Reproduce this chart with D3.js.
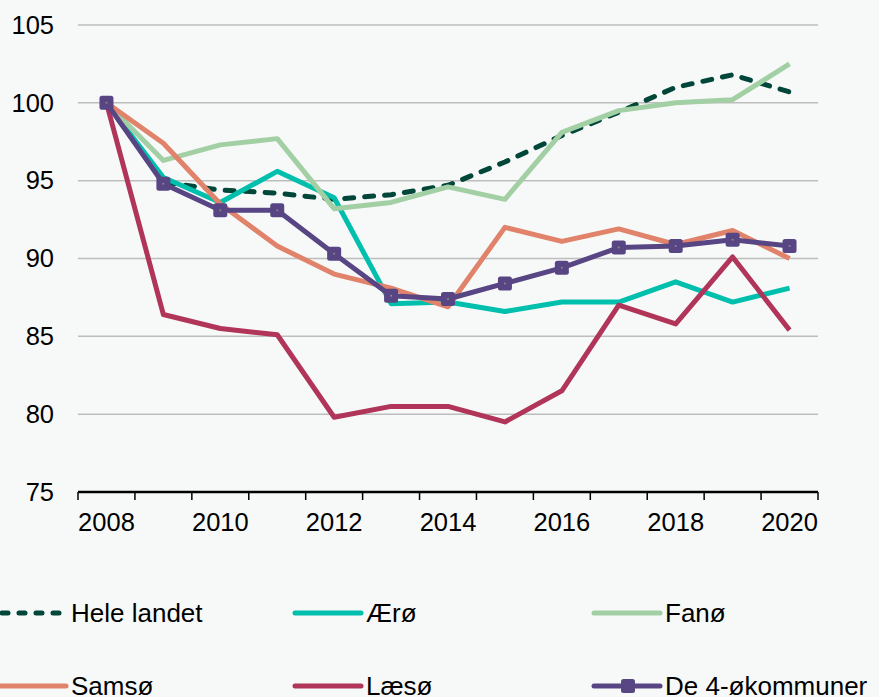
<!DOCTYPE html>
<html>
<head>
<meta charset="utf-8">
<script src="https://cdn.jsdelivr.net/npm/d3@7"></script>
<style>
  body { margin: 0; background: #f7f9f9; }
  svg { display: block; font-family: "Liberation Sans", Arial, sans-serif; }
</style>
</head>
<body>
<div id="okvir"></div>
<script>
// data
const aar = ["2008","2009","2010","2011","2012","2013","2014","2015","2016","2017","2018","2019","2020"]
const aarOznake = ["2008","2010","2012","2014","2016","2018","2020"]
const yTicks = [75, 80, 85, 90, 95, 100, 105]

const heleLandet = [100, 94.9, 94.4, 94.2, 93.8, 94.1, 94.7, 96.2, 97.9, 99.4, 101.0, 101.8, 100.7]
const aeroe = [100, 95.2, 93.6, 95.6, 93.9, 87.1, 87.2, 86.6, 87.2, 87.2, 88.5, 87.2, 88.1]
const fanoe = [100, 96.3, 97.3, 97.7, 93.2, 93.6, 94.6, 93.8, 98.1, 99.5, 100.0, 100.2, 102.5]
const samsoe = [100, 97.4, 93.5, 90.8, 89.0, 88.1, 86.9, 92.0, 91.1, 91.9, 90.9, 91.8, 90.0]
const laesoe = [100, 86.4, 85.5, 85.1, 79.8, 80.5, 80.5, 79.5, 81.5, 87.0, 85.8, 90.1, 85.4]
const oekommuner = [100, 94.8, 93.1, 93.1, 90.3, 87.6, 87.4, 88.4, 89.4, 90.7, 90.8, 91.2, 90.8]

const serije = [
  { naziv: "Hele landet", vrijednosti: heleLandet, boja: "#00473a", crtkano: true },
  { naziv: "Ærø", vrijednosti: aeroe, boja: "#00bfad" },
  { naziv: "Fanø", vrijednosti: fanoe, boja: "#a3cfa4" },
  { naziv: "Samsø", vrijednosti: samsoe, boja: "#e0836a" },
  { naziv: "Læsø", vrijednosti: laesoe, boja: "#b03558" },
  { naziv: "De 4-økommuner", vrijednosti: oekommuner, boja: "#574683", markeri: true },
]

// dimenzije
const sirina = 879, visina = 697
const granice = { left: 78, right: 818, top: 25, bottom: 492 }

const okvir = d3.select("#okvir").append("svg")
  .attr("width", sirina)
  .attr("height", visina)

// skale
const x = d3.scaleBand().domain(aar).range([granice.left, granice.right])
const y = d3.scaleLinear().domain([75, 105]).range([granice.bottom, granice.top])
const xc = d => x(d) + x.bandwidth() / 2

// mreza
okvir.append("g")
  .selectAll("line")
  .data(yTicks.filter(t => t > 75))
  .join("line")
    .attr("x1", granice.left)
    .attr("x2", granice.right)
    .attr("y1", d => y(d))
    .attr("y2", d => y(d))
    .attr("stroke", "#bdbdbd")
    .attr("stroke-width", 1.5)

// y oznake
const yOs = d3.axisLeft(y).tickValues(yTicks).tickSize(0).tickPadding(24)
okvir.append("g")
  .attr("transform", `translate(${granice.left},0)`)
  .call(yOs)
  .call(g => g.select(".domain").remove())
  .call(g => g.selectAll("text").attr("font-size", 25.5).attr("fill", "#000").attr("font-family", null))

// x os
const xOs = d3.axisBottom(x).tickValues(aarOznake).tickSize(0).tickPadding(21)
const xg = okvir.append("g")
  .attr("transform", `translate(0,${granice.bottom})`)
  .call(xOs)
xg.select(".domain").remove()
xg.selectAll("text").attr("font-size", 25.5).attr("fill", "#000").attr("font-family", null)
xg.append("line")
  .attr("x1", granice.left).attr("x2", granice.right)
  .attr("stroke", "#000").attr("stroke-width", 2.5)
xg.selectAll(".crtica")
  .data(aar.concat(["kraj"]))
  .join("line")
    .attr("class", "crtica")
    .attr("x1", (d, i) => i < aar.length ? x(d) : granice.right)
    .attr("x2", (d, i) => i < aar.length ? x(d) : granice.right)
    .attr("y1", 0).attr("y2", 8)
    .attr("stroke", "#000").attr("stroke-width", 1.5)

// linije
const linija = d3.line()
  .x((d, i) => xc(aar[i]))
  .y(d => y(d))

serije.forEach(s => {
  okvir.append("path")
    .datum(s.vrijednosti)
    .attr("d", linija)
    .attr("fill", "none")
    .attr("stroke", s.boja)
    .attr("stroke-width", 5)
    .attr("stroke-linejoin", "round")
    .attr("stroke-linecap", s.crtkano ? "round" : "butt")
    .attr("stroke-dasharray", s.crtkano ? "9,11" : null)

  if (s.markeri) {
    const m = okvir.append("g").selectAll("g")
      .data(s.vrijednosti)
      .join("g")
        .attr("transform", (d, i) => `translate(${xc(aar[i])},${y(d)})`)
    m.append("rect")
      .attr("x", -7).attr("y", -7)
      .attr("width", 14).attr("height", 14)
      .attr("rx", 2.5)
      .attr("fill", s.boja)
    m.append("circle").attr("r", 1).attr("fill", "#8a8a8a")
  }
})

// legenda
const legendaX = [0, 295, 594]
const legendaY = [613, 686]
const legenda = okvir.append("g")
  .selectAll("g")
  .data(serije)
  .join("g")
    .attr("transform", (d, i) => `translate(${legendaX[i % 3]},${legendaY[Math.floor(i / 3)]})`)

legenda.append("line")
  .attr("x1", d => d.crtkano ? 2 : 0)
  .attr("x2", 66)
  .attr("stroke", d => d.boja)
  .attr("stroke-width", 5)
  .attr("stroke-linecap", "round")
  .attr("stroke-dasharray", d => d.crtkano ? "6,11" : null)

legenda.filter(d => d.markeri).append("rect")
  .attr("x", 27).attr("y", -7)
  .attr("width", 14).attr("height", 14)
  .attr("rx", 2.5)
  .attr("fill", d => d.boja)

legenda.append("text")
  .attr("x", 71)
  .attr("dy", "0.35em")
  .attr("font-size", 26)
  .text(d => d.naziv)
</script>
</body>
</html>
